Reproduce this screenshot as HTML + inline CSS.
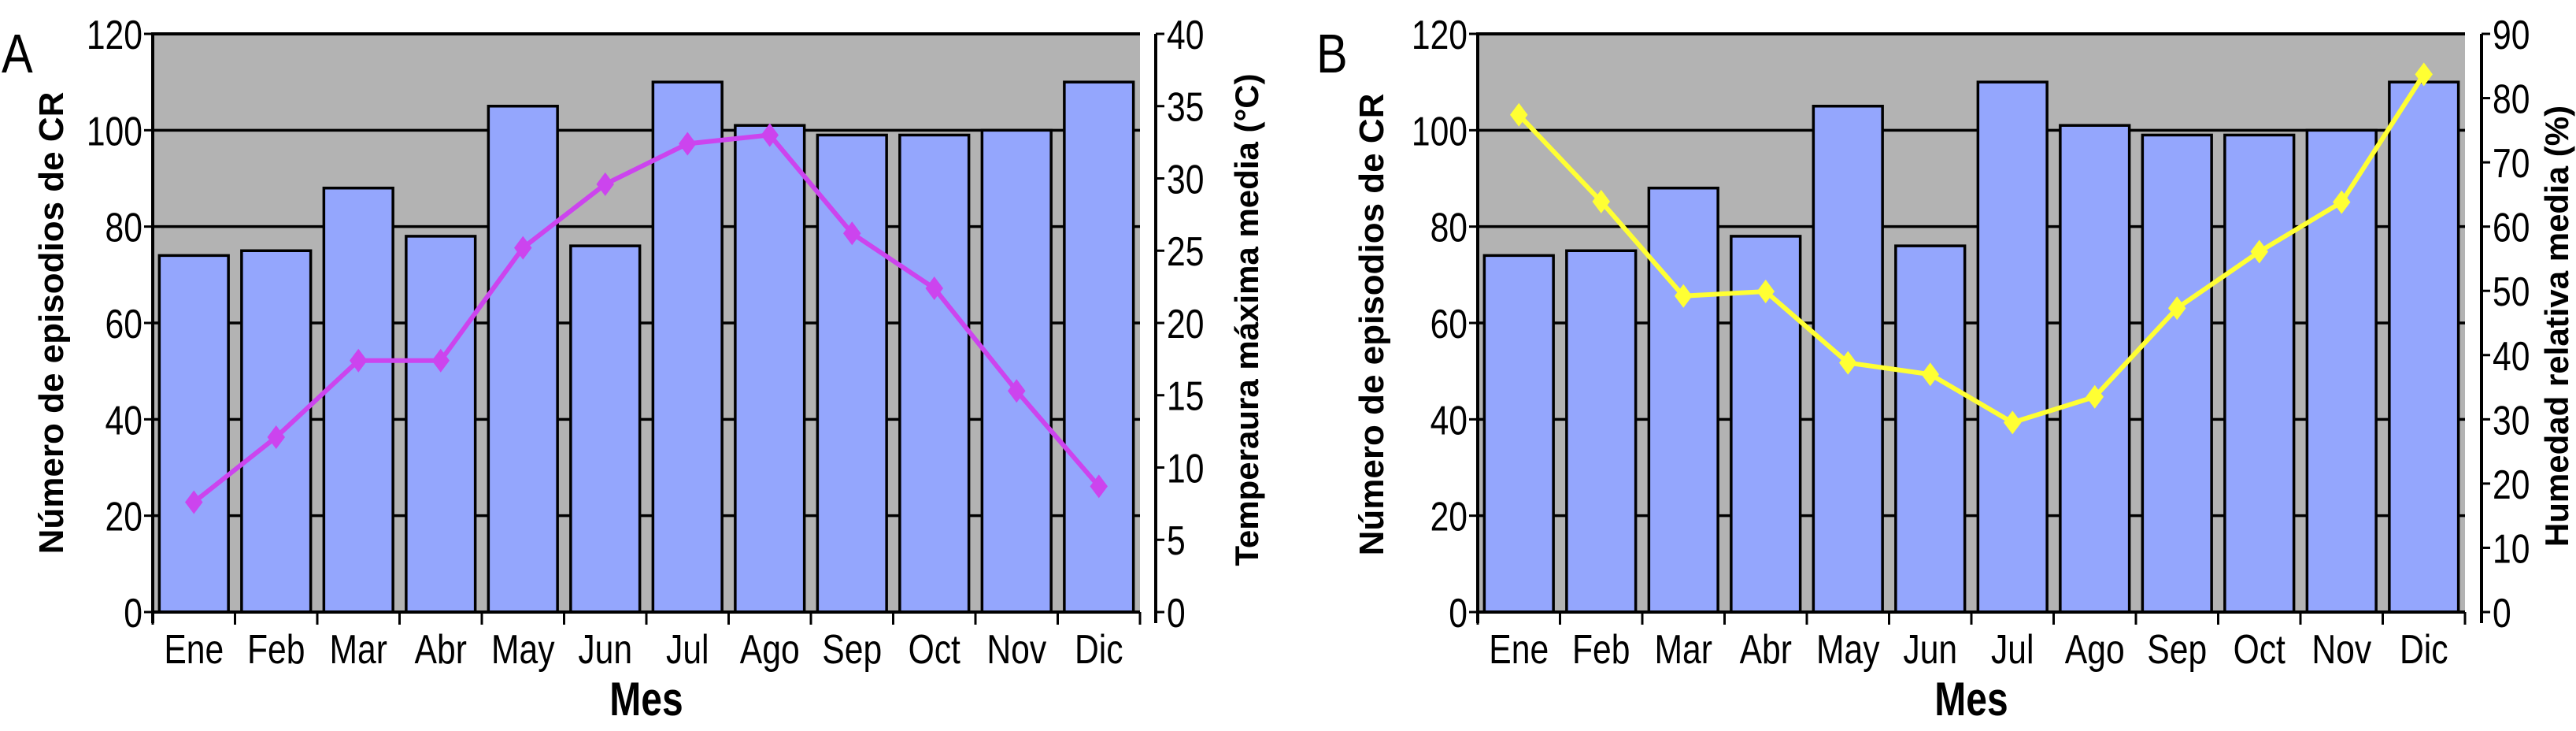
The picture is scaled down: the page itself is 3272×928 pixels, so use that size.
<!DOCTYPE html>
<html><head><meta charset="utf-8">
<style>
html,body{margin:0;padding:0;background:#fff;}
svg{display:block;}
text{font-family:"Liberation Sans",Arial,sans-serif;fill:#000;}
</style></head>
<body>
<svg id="chart" width="3272" height="928" viewBox="0 0 3272 928" xmlns="http://www.w3.org/2000/svg"></svg>
<script>
const months = ["Ene","Feb","Mar","Abr","May","Jun","Jul","Ago","Sep","Oct","Nov","Dic"];
const episodes = [74,75,88,78,105,76,110,101,99,99,100,110];
const temperature = [7.6,12.1,17.4,17.4,25.2,29.6,32.4,33.0,26.2,22.4,15.3,8.7];
const humidity = [77.4,63.9,49.2,49.9,38.8,37.0,29.5,33.5,47.3,56.1,63.8,83.7];
const leftTicks = [0,20,40,60,80,100,120];
const tempTicks = [0,5,10,15,20,25,30,35,40];
const humTicks = [0,10,20,30,40,50,60,70,80,90];

const NS = "http://www.w3.org/2000/svg";
const svg = document.getElementById("chart");
function mk(tag, attrs, parent){
  const e = document.createElementNS(NS, tag);
  for (const k in attrs) e.setAttribute(k, attrs[k]);
  (parent||svg).appendChild(e);
  return e;
}

function panel(cfg){
  const g = mk("g", {});
  
  
  const L = cfg.left, R = cfg.right, T = 43, B = 777;
  const yL = v => B - (v/120)*(B-T);
  const yR = v => B - (v/cfg.rMax)*(B-T);
  const bw = (R-L)/months.length;
  const xC = i => L + bw*(i+0.5);

  const bg = mk("rect", {x:L, y:T, width:R-L, height:B-T, fill:"#b3b3b3"}, g);
  
  
  leftTicks.forEach(v => {
    const ln = mk("line", {x1:L, x2:R, y1:yL(v), y2:yL(v), stroke:"#000", "stroke-width":3.5}, g);
    
    
  });
  episodes.forEach((v,i) => {
    const w = bw*0.84;
    const r = mk("rect", {x:xC(i)-w/2, y:yL(v), width:w, height:B-yL(v), fill:"#94a6fd", stroke:"#000", "stroke-width":3.5}, g);
    
    
  });
  const ax = mk("path", {d:`M${L},${T} H${R} M${L},${T-2} V${B+14}`, stroke:"#000", "stroke-width":4, fill:"none"}, g);
  
  
  const xa = mk("line", {x1:L, x2:R, y1:B, y2:B, stroke:"#000", "stroke-width":4}, g);
  
  
  for (let i=0;i<=months.length;i++){
    const t = mk("line", {x1:L+bw*i, x2:L+bw*i, y1:B, y2:B+16, stroke:"#000", "stroke-width":3}, g);
    
    
  }
  leftTicks.forEach(v => {
    const t = mk("line", {x1:L-11, x2:L, y1:yL(v), y2:yL(v), stroke:"#000", "stroke-width":3}, g);
    
    
    const tx = mk("text", {x:L-13, y:yL(v)+19, "text-anchor":"end", "font-size":52, transform:`translate(${L-13},0) scale(0.82,1) translate(${-(L-13)},0)`}, g);
    tx.textContent = v;
    
    
  });
  const RA = cfg.rAxis;
  const ra = mk("line", {x1:RA, x2:RA, y1:T, y2:B+14, stroke:"#000", "stroke-width":4}, g);
  
  
  cfg.rTicks.forEach(v => {
    const t = mk("line", {x1:RA, x2:RA+11, y1:yR(v), y2:yR(v), stroke:"#000", "stroke-width":3}, g);
    
    
    const tx = mk("text", {x:RA+14, y:yR(v)+19, "text-anchor":"start", "font-size":52, transform:`translate(${RA+14},0) scale(0.82,1) translate(${-(RA+14)},0)`}, g);
    tx.textContent = v;
    
    
  });
  months.forEach((m,i) => {
    const tx = mk("text", {x:xC(i), y:842, "text-anchor":"middle", "font-size":52, transform:`translate(${xC(i)},0) scale(0.82,1) translate(${-xC(i)},0)`}, g);
    tx.textContent = m;
    
    
  });
  const vals = cfg.series;
  const pts = vals.map((v,i)=>`${xC(i)},${yR(v)}`).join(" ");
  const pl = mk("polyline", {points:pts, fill:"none", stroke:cfg.color, "stroke-width":6}, g);
  
  
  vals.forEach((v,i) => {
    const x = xC(i), y = yR(v), s = 15;
    const p = mk("polygon", {points:`${x},${y-s} ${x+s*0.75},${y} ${x},${y+s} ${x-s*0.75},${y}`, fill:cfg.color}, g);
    
    
  });
  const panelLbl = mk("text", {x:cfg.lblX, y:92, "font-size":70, transform:`translate(${cfg.lblX},0) scale(0.85,1) translate(${-cfg.lblX},0)`}, g);
  panelLbl.textContent = cfg.label;
  
  
  const yt = mk("text", {x:0, y:0, "text-anchor":"middle", "font-size":44, "font-weight":"bold", transform:`translate(${cfg.ltX},${cfg.ltY}) rotate(-90)`}, g);
  yt.textContent = "Número de episodios de CR";
  
  
  const rt = mk("text", {x:0, y:0, "text-anchor":"middle", "font-size":42, "font-weight":"bold", transform:`translate(${cfg.rtX},${cfg.rtY}) rotate(-90)`}, g);
  rt.textContent = cfg.rTitle;
  
  
  const mx = (L+R)/2;
  const xt = mk("text", {x:mx, y:908, "text-anchor":"middle", "font-size":60, "font-weight":"bold", transform:`translate(${mx},0) scale(0.8,1) translate(${-mx},0)`}, g);
  xt.textContent = "Mes";
  
  
}

panel({name:"panel-a", label:"A", lblX:2, left:194, right:1448, rAxis:1468, rMax:40, rTicks:tempTicks,
  series:temperature, seriesName:"temperature", color:"#cc44ee",
  ltX:80, ltY:410, rtX:1598, rtY:406, rTitle:"Temperaura máxima media (°C)"});
panel({name:"panel-b", label:"B", lblX:1672, left:1877, right:3131, rAxis:3152, rMax:90, rTicks:humTicks,
  series:humidity, seriesName:"humidity", color:"#ffff33",
  ltX:1757, ltY:412, rtX:3262, rtY:414, rTitle:"Humedad relativa media (%)"});
</script>
</body></html>
